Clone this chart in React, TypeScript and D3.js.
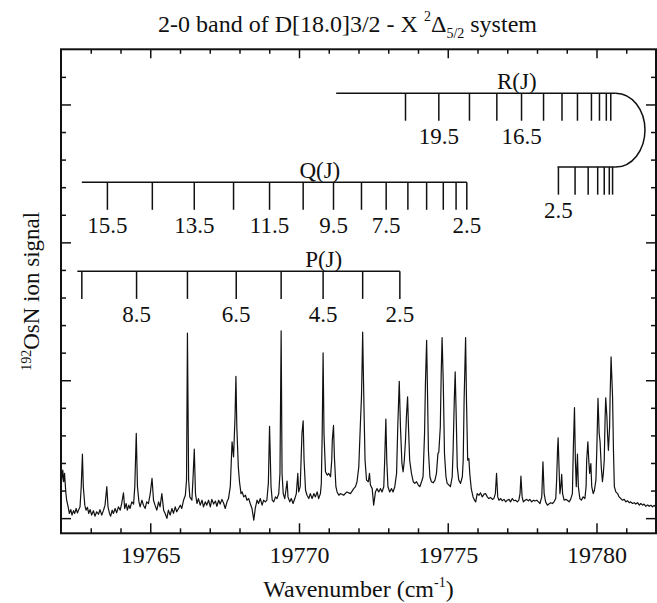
import React, { useEffect, useRef } from 'react';
import * as d3 from 'd3';

const WIDTH = 657;
const HEIGHT = 603;

// Ion signal trace: [wavenumber (cm-1), signal (arb. units)]
const SPECTRUM: [number, number][] = [
  [19762.02, 1.32], [19762.06, 1.74], [19762.09, 1.32], [19762.12, 1.62], [19762.16, 0.95],
  [19762.19, 0.65], [19762.24, 0.41], [19762.28, 0.17], [19762.33, 0.31], [19762.37, 0.11],
  [19762.42, 0.27], [19762.46, 0.17], [19762.51, 0.35], [19762.55, 0.19], [19762.59, 0.29],
  [19762.64, 0.41], [19762.68, 1.14], [19762.72, 2.32], [19762.75, 1.14], [19762.80, 0.47],
  [19762.84, 0.29], [19762.89, 0.39], [19762.93, 0.17], [19762.98, 0.31], [19763.03, 0.11],
  [19763.09, 0.27], [19763.14, 0.07], [19763.20, 0.23], [19763.26, 0.14], [19763.31, 0.31],
  [19763.37, 0.11], [19763.43, 0.29], [19763.48, 0.47], [19763.54, 1.14], [19763.58, 0.41],
  [19763.63, 0.17], [19763.67, 0.07], [19763.72, 0.29], [19763.76, 0.17], [19763.82, 0.35],
  [19763.87, 0.19], [19763.93, 0.41], [19763.99, 0.29], [19764.04, 0.53], [19764.10, 0.92],
  [19764.14, 0.35], [19764.19, 0.53], [19764.23, 0.29], [19764.28, 0.47], [19764.32, 0.35],
  [19764.38, 0.59], [19764.44, 0.51], [19764.48, 1.14], [19764.53, 3.07], [19764.57, 1.14],
  [19764.62, 0.59], [19764.66, 0.41], [19764.72, 0.65], [19764.77, 0.47], [19764.83, 0.35],
  [19764.88, 0.59], [19764.94, 0.53], [19765.00, 0.89], [19765.06, 1.44], [19765.11, 0.65],
  [19765.16, 0.47], [19765.22, 0.29], [19765.28, 0.59], [19765.33, 0.41], [19765.39, 0.89],
  [19765.45, 0.29], [19765.50, 0.17], [19765.56, -0.01], [19765.61, 0.29], [19765.67, 0.11],
  [19765.73, 0.35], [19765.78, 0.17], [19765.84, 0.41], [19765.89, 0.23], [19765.95, 0.35],
  [19766.01, 0.47], [19766.06, 0.35], [19766.12, 0.65], [19766.18, 0.83], [19766.22, 1.38],
  [19766.25, 6.71], [19766.29, 1.38], [19766.33, 0.77], [19766.40, 0.65], [19766.44, 1.50],
  [19766.48, 2.50], [19766.52, 0.89], [19766.57, 0.53], [19766.62, 0.71], [19766.68, 0.47],
  [19766.74, 0.65], [19766.79, 0.41], [19766.85, 0.59], [19766.90, 0.47], [19766.96, 0.65],
  [19767.02, 0.41], [19767.07, 0.68], [19767.13, 0.51], [19767.19, 0.62], [19767.24, 0.43],
  [19767.30, 0.65], [19767.35, 0.51], [19767.41, 0.68], [19767.47, 0.53], [19767.52, 0.35],
  [19767.58, 0.59], [19767.63, 0.71], [19767.69, 1.14], [19767.75, 2.77], [19767.80, 2.22],
  [19767.85, 3.67], [19767.88, 5.14], [19767.91, 3.31], [19767.96, 1.86], [19768.00, 1.32],
  [19768.05, 0.89], [19768.09, 0.95], [19768.14, 0.77], [19768.20, 0.83], [19768.25, 0.65],
  [19768.31, 0.71], [19768.36, 0.53], [19768.42, 0.35], [19768.48, -0.07], [19768.53, 0.35],
  [19768.59, 0.65], [19768.64, 0.53], [19768.70, 0.71], [19768.76, 0.47], [19768.81, 0.65],
  [19768.87, 0.59], [19768.92, 0.65], [19768.97, 1.26], [19769.01, 3.33], [19769.06, 1.14],
  [19769.10, 0.65], [19769.15, 0.59], [19769.21, 0.77], [19769.26, 0.71], [19769.32, 0.89],
  [19769.36, 1.62], [19769.40, 6.79], [19769.43, 1.62], [19769.47, 0.89], [19769.52, 0.71],
  [19769.56, 1.01], [19769.60, 1.34], [19769.63, 0.77], [19769.69, 0.59], [19769.74, 0.71],
  [19769.80, 0.53], [19769.86, 0.71], [19769.91, 0.89], [19769.96, 1.62], [19769.99, 0.95],
  [19770.04, 1.14], [19770.07, 2.10], [19770.10, 3.07], [19770.14, 3.53], [19770.17, 2.10],
  [19770.22, 1.01], [19770.27, 0.83], [19770.33, 0.71], [19770.38, 0.89], [19770.44, 0.71],
  [19770.50, 0.89], [19770.55, 0.77], [19770.61, 0.95], [19770.66, 0.71], [19770.72, 0.89],
  [19770.75, 1.26], [19770.78, 3.07], [19770.81, 5.99], [19770.84, 3.07], [19770.89, 1.68],
  [19770.95, 1.56], [19771.00, 1.62], [19771.06, 1.50], [19771.10, 2.10], [19771.12, 2.83],
  [19771.16, 3.36], [19771.19, 2.22], [19771.24, 1.14], [19771.28, 0.95], [19771.34, 0.83],
  [19771.39, 0.89], [19771.50, 0.83], [19771.61, 0.95], [19771.73, 0.89], [19771.84, 1.07],
  [19771.90, 1.14], [19771.95, 1.32], [19772.01, 1.86], [19772.06, 3.31], [19772.10, 4.40],
  [19772.12, 5.48], [19772.14, 6.75], [19772.16, 5.48], [19772.19, 3.67], [19772.22, 2.10],
  [19772.27, 1.38], [19772.33, 1.32], [19772.37, 1.62], [19772.40, 1.20], [19772.46, 1.07],
  [19772.51, 0.47], [19772.57, 0.95], [19772.62, 1.07], [19772.68, 0.95], [19772.74, 1.07],
  [19772.79, 0.95], [19772.85, 1.14], [19772.88, 2.10], [19772.92, 3.59], [19772.95, 2.10],
  [19772.99, 1.14], [19773.05, 0.95], [19773.11, 1.07], [19773.16, 0.95], [19773.22, 1.14],
  [19773.28, 1.62], [19773.32, 3.31], [19773.37, 4.96], [19773.41, 3.31], [19773.46, 1.98],
  [19773.50, 1.68], [19773.54, 2.10], [19773.58, 2.83], [19773.61, 3.67], [19773.65, 4.40],
  [19773.68, 3.31], [19773.72, 2.10], [19773.78, 1.62], [19773.84, 1.32], [19773.89, 1.26],
  [19773.95, 1.32], [19774.01, 1.20], [19774.06, 1.14], [19774.12, 1.32], [19774.17, 1.50],
  [19774.22, 3.07], [19774.25, 4.88], [19774.29, 6.45], [19774.32, 4.52], [19774.35, 2.46],
  [19774.40, 1.50], [19774.45, 1.32], [19774.51, 1.28], [19774.57, 1.38], [19774.62, 1.62],
  [19774.67, 2.34], [19774.70, 2.40], [19774.75, 3.31], [19774.78, 5.24], [19774.81, 6.55],
  [19774.85, 4.88], [19774.89, 2.34], [19774.94, 1.50], [19774.98, 1.26], [19775.04, 1.20],
  [19775.09, 1.14], [19775.15, 1.50], [19775.18, 2.46], [19775.22, 4.28], [19775.25, 5.30],
  [19775.28, 3.91], [19775.32, 1.86], [19775.37, 1.38], [19775.43, 1.26], [19775.49, 1.50],
  [19775.52, 2.10], [19775.55, 4.28], [19775.60, 6.55], [19775.63, 4.28], [19775.67, 2.10],
  [19775.71, 2.16], [19775.74, 1.62], [19775.79, 1.07], [19775.85, 0.77], [19775.90, 0.65],
  [19775.94, 0.59], [19775.99, 0.89], [19776.05, 0.83], [19776.10, 0.92], [19776.16, 0.77],
  [19776.22, 0.87], [19776.27, 0.89], [19776.33, 0.77], [19776.38, 0.71], [19776.44, 0.75],
  [19776.50, 0.68], [19776.55, 0.71], [19776.60, 0.89], [19776.64, 1.62], [19776.68, 0.77],
  [19776.72, 0.65], [19776.78, 0.71], [19776.83, 0.63], [19776.89, 0.68], [19776.95, 0.59],
  [19777.00, 0.65], [19777.06, 0.68], [19777.11, 0.59], [19777.17, 0.71], [19777.23, 0.63],
  [19777.28, 0.65], [19777.34, 0.59], [19777.39, 0.65], [19777.43, 0.89], [19777.46, 1.52],
  [19777.50, 0.77], [19777.54, 0.59], [19777.60, 0.65], [19777.65, 0.68], [19777.71, 0.63],
  [19777.76, 0.68], [19777.82, 0.59], [19777.88, 0.65], [19777.93, 0.62], [19777.99, 0.65],
  [19778.05, 0.59], [19778.10, 0.53], [19778.16, 0.77], [19778.20, 2.04], [19778.24, 0.89],
  [19778.29, 0.59], [19778.35, 0.47], [19778.40, 0.51], [19778.46, 0.56], [19778.52, 0.53],
  [19778.57, 0.59], [19778.63, 0.71], [19778.66, 1.38], [19778.69, 2.46], [19778.71, 2.91],
  [19778.74, 1.86], [19778.77, 0.89], [19778.80, 1.14], [19778.83, 1.59], [19778.86, 0.89],
  [19778.91, 0.65], [19778.97, 0.68], [19779.02, 0.65], [19779.08, 0.59], [19779.13, 0.68],
  [19779.19, 0.89], [19779.22, 2.46], [19779.26, 4.01], [19779.29, 2.10], [19779.32, 1.14],
  [19779.36, 2.32], [19779.39, 1.14], [19779.44, 0.71], [19779.49, 0.65], [19779.55, 0.77],
  [19779.61, 0.71], [19779.65, 1.14], [19779.67, 2.10], [19779.71, 2.77], [19779.74, 2.10],
  [19779.77, 1.62], [19779.81, 1.98], [19779.84, 1.14], [19779.89, 0.89], [19779.93, 1.01],
  [19779.98, 1.38], [19780.01, 2.46], [19780.05, 4.34], [19780.09, 3.07], [19780.12, 2.77],
  [19780.16, 1.86], [19780.20, 1.32], [19780.23, 1.62], [19780.26, 2.10], [19780.29, 3.67],
  [19780.31, 4.36], [19780.35, 3.67], [19780.37, 3.07], [19780.40, 2.46], [19780.44, 3.31],
  [19780.46, 4.52], [19780.49, 5.85], [19780.51, 5.24], [19780.54, 4.40], [19780.57, 2.46],
  [19780.60, 1.14], [19780.65, 0.95], [19780.71, 0.89], [19780.76, 0.77], [19780.82, 0.71],
  [19780.87, 0.65], [19780.93, 0.68], [19780.99, 0.59], [19781.04, 0.63], [19781.10, 0.56],
  [19781.15, 0.59], [19781.21, 0.53], [19781.27, 0.56], [19781.32, 0.51], [19781.38, 0.56],
  [19781.44, 0.47], [19781.49, 0.53], [19781.55, 0.47], [19781.60, 0.51], [19781.66, 0.43],
  [19781.72, 0.48], [19781.77, 0.43], [19781.83, 0.47], [19781.88, 0.41], [19781.94, 0.46],
  [19782.00, 0.41],
];

// P branch assignments
const P_J = [9.5, 8.5, 7.5, 6.5, 5.5, 4.5, 3.5, 2.5];
const P_POS = [19762.70, 19764.54, 19766.25, 19767.89, 19769.40, 19770.81, 19772.14, 19773.39];
const P_LABELED = [8.5, 6.5, 4.5, 2.5];

// Q branch assignments
const Q_J = [15.5, 14.5, 13.5, 12.5, 11.5, 10.5, 9.5, 8.5, 7.5, 6.5, 5.5, 4.5, 3.5, 2.5];
const Q_POS = [
  19763.56, 19765.07, 19766.48, 19767.80, 19769.01, 19770.14, 19771.16,
  19772.10, 19772.93, 19773.66, 19774.29, 19774.85, 19775.28, 19775.64,
];
const Q_LABELED = [15.5, 13.5, 11.5, 9.5, 7.5, 2.5];

// R branch, high J (before the band head) and low J (after turning back)
const R_HIGH_J = [20.5, 19.5, 18.5, 17.5, 16.5, 15.5, 14.5, 13.5, 12.5, 11.5, 10.5, 9.5];
const R_HIGH_POS = [
  19773.58, 19774.70, 19775.73, 19776.65, 19777.48, 19778.22,
  19778.84, 19779.36, 19779.83, 19780.10, 19780.33, 19780.48,
];
const R_HIGH_LABELED = [19.5, 16.5];
const R_LOW_J = [2.5, 3.5, 4.5, 5.5, 6.5, 7.5, 8.5];
const R_LOW_POS = [19778.72, 19779.28, 19779.72, 19780.04, 19780.26, 19780.43, 19780.54];
const R_LOW_LABELED = [2.5];

const X_MAJOR = [19765, 19770, 19775, 19780];
const X_MINOR = d3.range(19763, 19782, 1).filter(v => !X_MAJOR.includes(v));
const Y_MAJOR = [0, 5, 10, 15];
const Y_MINOR = d3.range(1, 17, 1).filter(v => !Y_MAJOR.includes(v));

const FONT = '"Liberation Serif", "Times New Roman", serif';
const INK = '#111';

export default function App() {
  const svgRef = useRef<SVGSVGElement>(null);

  useEffect(() => {
    if (!svgRef.current) return;
    const svg = d3.select(svgRef.current);
    svg.selectAll('*').remove();

    const margin = { top: 49.3, right: 1, bottom: 69.7, left: 61 };
    const innerWidth = WIDTH - margin.left - margin.right;
    const innerHeight = HEIGHT - margin.top - margin.bottom;

    const x = d3.scaleLinear().domain([19762, 19782]).range([margin.left, margin.left + innerWidth]);
    const y = d3.scaleLinear().domain([-0.55, 17]).range([margin.top + innerHeight, margin.top]);

    svg.append('rect').attr('width', WIDTH).attr('height', HEIGHT).attr('fill', '#fff');

    // clip for the trace
    svg.append('clipPath').attr('id', 'plot-clip')
      .append('rect')
      .attr('x', margin.left).attr('y', margin.top)
      .attr('width', innerWidth).attr('height', innerHeight);

    const line = d3.line<[number, number]>()
      .x(d => x(d[0]))
      .y(d => y(d[1]));

    svg.append('path')
      .datum(SPECTRUM)
      .attr('clip-path', 'url(#plot-clip)')
      .attr('d', line)
      .attr('fill', 'none')
      .attr('stroke', INK)
      .attr('stroke-width', 1.2)
      .attr('stroke-linejoin', 'round');

    // Axes: inward ticks on all four sides
    const bottomY = margin.top + innerHeight;
    const rightX = margin.left + innerWidth;

    const styleAxis = (sel: d3.Selection<SVGGElement, unknown, null, undefined>) => {
      sel.select('.domain').remove();
      sel.selectAll('line').attr('stroke', INK).attr('stroke-width', 1.5);
    };

    svg.append('g')
      .attr('transform', `translate(0,${bottomY})`)
      .call(d3.axisBottom(x).tickValues(X_MAJOR).tickSize(-10).tickPadding(13).tickFormat(d3.format('d')))
      .call(styleAxis)
      .selectAll('text')
      .style('font-family', FONT)
      .style('font-size', '24px')
      .style('fill', INK);

    svg.append('g')
      .attr('transform', `translate(0,${bottomY})`)
      .call(d3.axisBottom(x).tickValues(X_MINOR).tickSize(-5).tickFormat(() => ''))
      .call(styleAxis);

    svg.append('g')
      .attr('transform', `translate(0,${margin.top})`)
      .call(d3.axisTop(x).tickValues(X_MAJOR).tickSize(-9).tickFormat(() => ''))
      .call(styleAxis);

    svg.append('g')
      .attr('transform', `translate(0,${margin.top})`)
      .call(d3.axisTop(x).tickValues(X_MINOR).tickSize(-4.5).tickFormat(() => ''))
      .call(styleAxis);

    svg.append('g')
      .attr('transform', `translate(${margin.left},0)`)
      .call(d3.axisLeft(y).tickValues(Y_MAJOR).tickSize(-10).tickFormat(() => ''))
      .call(styleAxis);

    svg.append('g')
      .attr('transform', `translate(${margin.left},0)`)
      .call(d3.axisLeft(y).tickValues(Y_MINOR).tickSize(-5).tickFormat(() => ''))
      .call(styleAxis);

    svg.append('g')
      .attr('transform', `translate(${rightX},0)`)
      .call(d3.axisRight(y).tickValues(Y_MAJOR).tickSize(-10).tickFormat(() => ''))
      .call(styleAxis);

    svg.append('g')
      .attr('transform', `translate(${rightX},0)`)
      .call(d3.axisRight(y).tickValues(Y_MINOR).tickSize(-5).tickFormat(() => ''))
      .call(styleAxis);

    // frame
    svg.append('rect')
      .attr('x', margin.left).attr('y', margin.top)
      .attr('width', innerWidth).attr('height', innerHeight)
      .attr('fill', 'none')
      .attr('stroke', INK)
      .attr('stroke-width', 2);

    // Rotational assignment combs (levels in signal units, tick length 1 unit)
    const TICK = 1.0;
    const combG = svg.append('g');

    const drawComb = (
      js: number[], pos: number[], labeled: number[],
      level: number, start: number, end: number,
      name?: string, nameAt?: number,
    ) => {
      combG.append('line')
        .attr('x1', x(start)).attr('x2', x(end))
        .attr('y1', y(level)).attr('y2', y(level))
        .attr('stroke', INK).attr('stroke-width', 1.5);

      combG.selectAll(null)
        .data(pos)
        .enter()
        .append('line')
        .attr('x1', d => x(d)).attr('x2', d => x(d))
        .attr('y1', y(level)).attr('y2', y(level - TICK))
        .attr('stroke', INK).attr('stroke-width', 1.5);

      const labels = js.map((j, i) => ({ j, p: pos[i] })).filter(d => labeled.includes(d.j));
      combG.selectAll(null)
        .data(labels)
        .enter()
        .append('text')
        .attr('x', d => x(d.p))
        .attr('y', y(level - TICK) + 23.5)
        .attr('text-anchor', 'middle')
        .style('font-family', FONT)
        .style('font-size', '23px')
        .style('fill', INK)
        .text(d => d.j.toFixed(1));

      if (name && nameAt !== undefined) {
        combG.append('text')
          .attr('x', x(nameAt))
          .attr('y', y(level) - 4.5)
          .attr('text-anchor', 'middle')
          .style('font-family', FONT)
          .style('font-size', '23px')
          .style('fill', INK)
          .text(name);
      }
    };

    const R_HIGH_LEVEL = 15.41;
    const R_LOW_LEVEL = 12.73;
    const R_TURN = 19780.65;
    const R_APEX = 19781.63;

    drawComb(R_HIGH_J, R_HIGH_POS, R_HIGH_LABELED, R_HIGH_LEVEL, 19771.25, R_TURN, 'R(J)', 19777.32);
    drawComb(R_LOW_J, R_LOW_POS, R_LOW_LABELED, R_LOW_LEVEL, 19778.69, R_TURN);
    drawComb(Q_J, Q_POS, Q_LABELED, 12.18, 19762.70, Q_POS[Q_POS.length - 1], 'Q(J)', 19770.70);
    drawComb(P_J, P_POS, P_LABELED, 8.95, 19762.55, P_POS[P_POS.length - 1], 'P(J)', 19770.83);

    // band head turn-around
    const rx = x(R_APEX) - x(R_TURN);
    const ry = (y(R_LOW_LEVEL) - y(R_HIGH_LEVEL)) / 2;
    combG.append('path')
      .attr('d', `M${x(R_TURN)},${y(R_HIGH_LEVEL)} A${rx},${ry} 0 0 1 ${x(R_TURN)},${y(R_LOW_LEVEL)}`)
      .attr('fill', 'none')
      .attr('stroke', INK)
      .attr('stroke-width', 1.5);

    // Title
    const title = svg.append('text')
      .attr('x', 158)
      .attr('y', 32.3)
      .style('font-family', FONT)
      .style('font-size', '24px')
      .style('fill', INK)
      .style('white-space', 'pre');
    title.append('tspan').text('2-0 band of D[18.0]3/2 - X ');
    title.append('tspan').attr('dy', -11).style('font-size', '14px').text('2');
    title.append('tspan').attr('dy', 11).text('Δ');
    title.append('tspan').attr('dy', 6).style('font-size', '14px').text('5/2');
    title.append('tspan').attr('dy', -6).text(' system');

    // X label
    const xl = svg.append('text')
      .attr('x', margin.left + innerWidth / 2)
      .attr('y', 597)
      .attr('text-anchor', 'middle')
      .style('font-family', FONT)
      .style('font-size', '24px')
      .style('fill', INK);
    xl.append('tspan').text('Wavenumber (cm');
    xl.append('tspan').attr('dy', -10).style('font-size', '14px').text('-1');
    xl.append('tspan').attr('dy', 10).text(')');

    // Y label
    const yl = svg.append('text')
      .attr('transform', `translate(39,${margin.top + innerHeight / 2}) rotate(-90)`)
      .attr('text-anchor', 'middle')
      .style('font-family', FONT)
      .style('font-size', '23px')
      .style('fill', INK);
    yl.append('tspan').attr('dy', -8).style('font-size', '14px').text('192');
    yl.append('tspan').attr('dy', 8).text('OsN ion signal');
  }, []);

  return (
    <svg
      ref={svgRef}
      width={WIDTH}
      height={HEIGHT}
      style={{ position: 'absolute', left: 0, top: 0, display: 'block' }}
    />
  );
}
